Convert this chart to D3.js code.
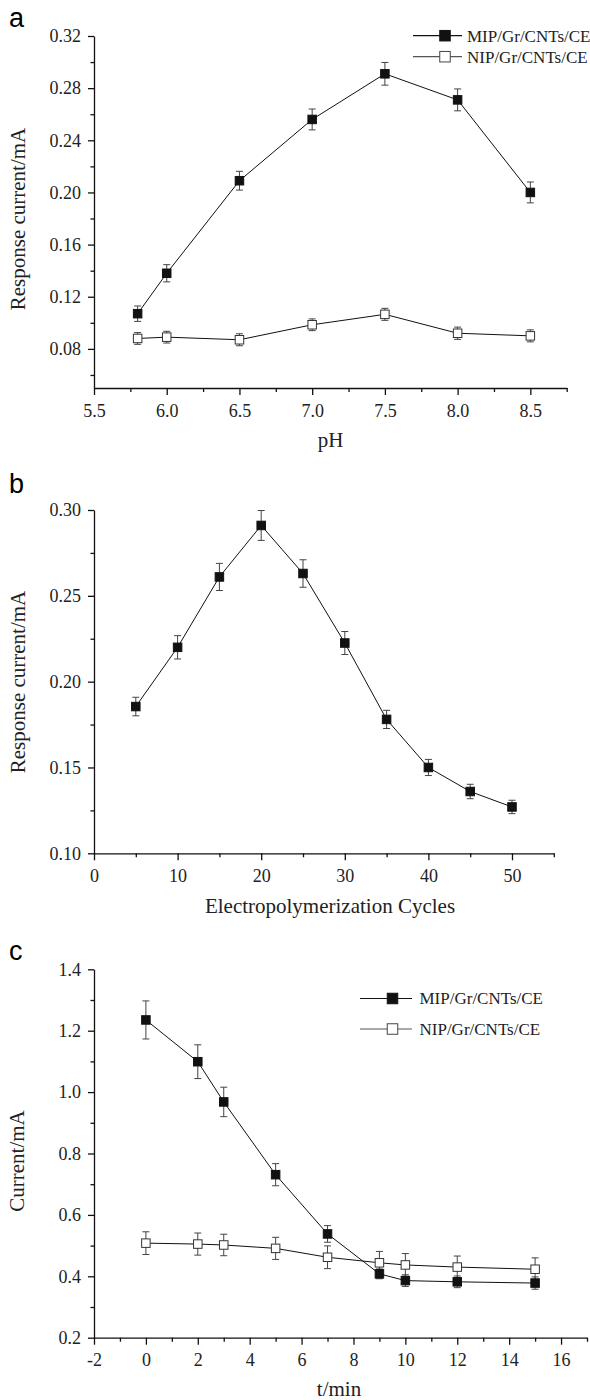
<!DOCTYPE html>
<html>
<head>
<meta charset="utf-8">
<script src="https://cdn.jsdelivr.net/npm/d3@7"></script>
<style>
  body { margin: 0; background: #fff; }
  svg text { font-family: "Liberation Serif", "Times New Roman", serif !important; fill: #222; }
  svg text.panel { font-family: "Liberation Sans", Arial, sans-serif !important; fill: #000; }
</style>
</head>
<body>
<div id="chart"></div>
<script>
// ---- data ----
const phValues = [5.8, 6.0, 6.5, 7.0, 7.5, 8.0, 8.5];
const phMip = [0.107, 0.138, 0.209, 0.256, 0.291, 0.271, 0.200];
const phMipErr = [0.0059, 0.0066, 0.0072, 0.0080, 0.0087, 0.0084, 0.0080];
const phNip = [0.088, 0.089, 0.087, 0.0985, 0.1065, 0.092, 0.090];
const phNipErr = [0.0045, 0.0045, 0.0046, 0.0045, 0.0046, 0.0047, 0.0046];

const cycles = [5, 10, 15, 20, 25, 30, 35, 40, 45, 50];
const cycleMip = [0.1855, 0.220, 0.261, 0.291, 0.263, 0.2225, 0.178, 0.150, 0.136, 0.127];
const cycleMipErr = [0.0054, 0.0068, 0.0079, 0.0087, 0.0080, 0.0067, 0.0053, 0.0047, 0.0042, 0.0039];

const times = [0, 2, 3, 5, 7, 9, 10, 12, 15];
const timeMip = [1.235, 1.099, 0.968, 0.731, 0.538, 0.408, 0.386, 0.382, 0.378];
const timeMipErr = [0.062, 0.055, 0.048, 0.036, 0.027, 0.016, 0.019, 0.019, 0.020];
const timeNip = [0.508, 0.505, 0.502, 0.491, 0.462, 0.444, 0.437, 0.430, 0.423];
const timeNipErr = [0.037, 0.036, 0.035, 0.036, 0.037, 0.037, 0.037, 0.036, 0.037];

// ---- ticks ----
const phTicks = [5.5, 6.0, 6.5, 7.0, 7.5, 8.0, 8.5];
const phMinor = [5.75, 6.25, 6.75, 7.25, 7.75, 8.25, 8.75];
const aYTicks = [0.08, 0.12, 0.16, 0.20, 0.24, 0.28, 0.32];
const aYMinor = [0.06, 0.10, 0.14, 0.18, 0.22, 0.26, 0.30];

const cycleTicks = [0, 10, 20, 30, 40, 50];
const cycleMinor = [5, 15, 25, 35, 45, 55];
const bYTicks = [0.10, 0.15, 0.20, 0.25, 0.30];
const bYMinor = [0.125, 0.175, 0.225, 0.275];

const timeTicks = [-2, 0, 2, 4, 6, 8, 10, 12, 14, 16];
const timeMinor = [-1, 1, 3, 5, 7, 9, 11, 13, 15, 17];
const cYTicks = [0.2, 0.4, 0.6, 0.8, 1.0, 1.2, 1.4];
const cYMinor = [0.3, 0.5, 0.7, 0.9, 1.1, 1.3];

const legendNames = ["MIP/Gr/CNTs/CE", "NIP/Gr/CNTs/CE"];

const serif = "'Liberation Serif', 'Times New Roman', serif";
const width = 590, height = 1400;
const svg = d3.select("#chart").append("svg")
  .attr("width", width).attr("height", height);

function drawAxes(g, x, y, opt) {
  g.append("g").attr("transform", `translate(0,${y.range()[0]})`)
    .call(d3.axisBottom(x).tickValues(opt.xTicks).tickFormat(opt.xFmt)
      .tickSize(7).tickPadding(9).tickSizeOuter(0));
  g.append("g").attr("transform", `translate(0,${y.range()[0]})`)
    .call(d3.axisBottom(x).tickValues(opt.xMinor).tickFormat("").tickSize(4).tickSizeOuter(0))
    .call(s => s.select(".domain").remove());

  g.append("g").attr("transform", `translate(${x.range()[0]},0)`)
    .call(d3.axisLeft(y).tickValues(opt.yTicks).tickFormat(opt.yFmt)
      .tickSize(6).tickPadding(7).tickSizeOuter(0));
  g.append("g").attr("transform", `translate(${x.range()[0]},0)`)
    .call(d3.axisLeft(y).tickValues(opt.yMinor).tickFormat("").tickSize(3.5).tickSizeOuter(0))
    .call(s => s.select(".domain").remove());

  g.selectAll(".tick line, .domain").attr("stroke", "#111").attr("stroke-width", 1.3);
  g.selectAll(".tick text").attr("fill", "#222")
    .style("font-family", serif).style("font-size", "18px");
}

function drawSeries(g, x, y, xs, ys, errs, filled) {
  const pts = xs.map((d, i) => ({ x: d, y: ys[i], e: errs[i] }));
  g.append("path").datum(pts)
    .attr("fill", "none").attr("stroke", "#111").attr("stroke-width", 1)
    .attr("d", d3.line().x(d => x(d.x)).y(d => y(d.y)));

  const cap = 3.5;
  const eb = g.append("g").attr("stroke", "#444").attr("stroke-width", 1);
  pts.forEach(d => {
    const cx = x(d.x), y1 = y(d.y - d.e), y2 = y(d.y + d.e);
    eb.append("line").attr("x1", cx).attr("x2", cx).attr("y1", y1).attr("y2", y2);
    eb.append("line").attr("x1", cx - cap).attr("x2", cx + cap).attr("y1", y1).attr("y2", y1);
    eb.append("line").attr("x1", cx - cap).attr("x2", cx + cap).attr("y1", y2).attr("y2", y2);
  });

  const s = 8.5;
  g.selectAll(null).data(pts).enter().append("rect")
    .attr("x", d => x(d.x) - s / 2).attr("y", d => y(d.y) - s / 2)
    .attr("width", s).attr("height", s)
    .attr("fill", filled ? "#111" : "#fff")
    .attr("stroke", filled ? "#111" : "#333").attr("stroke-width", 1);
}

function drawLegend(g, lx1, lx2, mx, tx, rows) {
  rows.forEach((r, i) => {
    g.append("line").attr("x1", lx1).attr("x2", lx2).attr("y1", r.y).attr("y2", r.y)
      .attr("stroke", i === 0 ? "#111" : "#555").attr("stroke-width", 1.2);
    const s = 10.5;
    g.append("rect").attr("x", mx - s / 2).attr("y", r.y - s / 2).attr("width", s).attr("height", s)
      .attr("fill", i === 0 ? "#111" : "#fff").attr("stroke", i === 0 ? "#111" : "#444");
    g.append("text").attr("x", tx).attr("y", r.y).attr("dy", "0.35em")
      .style("font-size", "17px").text(legendNames[i]);
  });
}

function axisTitles(g, xt, yt) {
  g.append("text").attr("x", xt.x).attr("y", xt.y).attr("text-anchor", "middle")
    .style("font-size", "21px").text(xt.text);
  g.append("text").attr("transform", `translate(${yt.x},${yt.y}) rotate(-90)`)
    .attr("text-anchor", "middle").style("font-size", "21px").text(yt.text);
}

function panelLetter(g, y, letter) {
  g.append("text").attr("class", "panel").attr("x", 9).attr("y", y)
    .style("font-size", "27px").text(letter);
}

// ---- panel a ----
{
  const g = svg.append("g");
  const x = d3.scaleLinear().domain([5.5, 8.75]).range([94, 566.7]);
  const y = d3.scaleLinear().domain([0.05, 0.32]).range([388, 36]);
  drawAxes(g, x, y, { xTicks: phTicks, xMinor: phMinor, xFmt: d3.format(".1f"),
    yTicks: aYTicks, yMinor: aYMinor, yFmt: d3.format(".2f") });
  drawSeries(g, x, y, phValues, phNip, phNipErr, false);
  drawSeries(g, x, y, phValues, phMip, phMipErr, true);
  drawLegend(g, 413, 462, 445, 467, [{ y: 35.7 }, { y: 56.7 }]);
  axisTitles(g, { x: 330.5, y: 447, text: "pH" }, { x: 25, y: 219, text: "Response current/mA" });
  panelLetter(g, 27, "a");
}

// ---- panel b ----
{
  const g = svg.append("g");
  const x = d3.scaleLinear().domain([0, 55]).range([94, 553.8]);
  const y = d3.scaleLinear().domain([0.10, 0.30]).range([853.3, 510]);
  drawAxes(g, x, y, { xTicks: cycleTicks, xMinor: cycleMinor, xFmt: d => String(d),
    yTicks: bYTicks, yMinor: bYMinor, yFmt: d3.format(".2f") });
  drawSeries(g, x, y, cycles, cycleMip, cycleMipErr, true);
  axisTitles(g, { x: 330, y: 913, text: "Electropolymerization Cycles" },
    { x: 25, y: 682, text: "Response current/mA" });
  panelLetter(g, 493, "b");
}

// ---- panel c ----
{
  const g = svg.append("g");
  const x = d3.scaleLinear().domain([-2, 17]).range([94, 587]);
  const y = d3.scaleLinear().domain([0.2, 1.4]).range([1337.7, 969.3]);
  drawAxes(g, x, y, { xTicks: timeTicks, xMinor: timeMinor, xFmt: d => String(d),
    yTicks: cYTicks, yMinor: cYMinor, yFmt: d3.format(".1f") });
  drawSeries(g, x, y, times, timeNip, timeNipErr, false);
  drawSeries(g, x, y, times, timeMip, timeMipErr, true);
  drawLegend(g, 360, 412, 392.5, 419.5, [{ y: 998.5 }, { y: 1029 }]);
  axisTitles(g, { x: 339, y: 1396, text: "t/min" }, { x: 24, y: 1161, text: "Current/mA" });
  panelLetter(g, 960, "c");
}
</script>
</body>
</html>
